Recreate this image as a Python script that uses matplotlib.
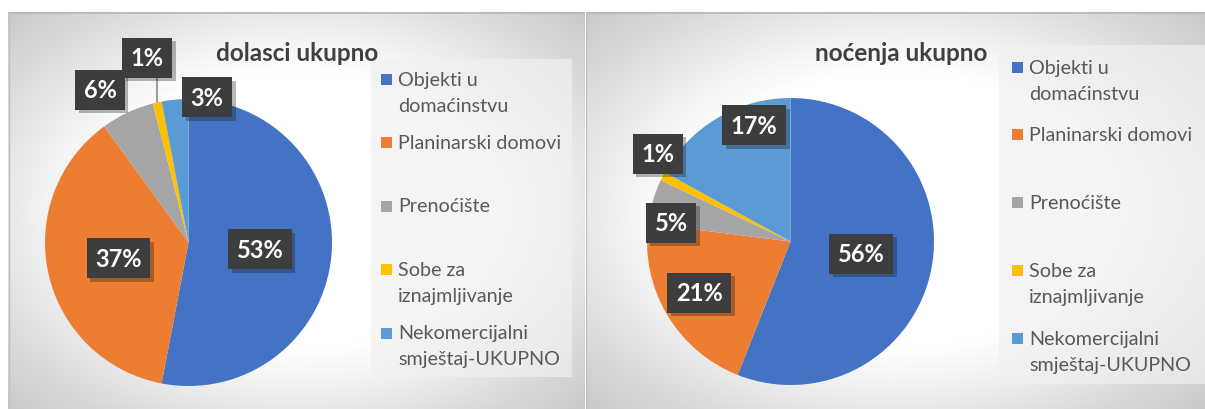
import matplotlib
matplotlib.use("Agg")
import matplotlib.pyplot as plt
import numpy as np
from matplotlib.colors import LinearSegmentedColormap
from matplotlib.patches import Rectangle
import matplotlib.patheffects as pe

plt.rcParams['font.family'] = ['Lato', 'DejaVu Sans']

# podaci
categories = ['Objekti u\ndomaćinstvu', 'Planinarski domovi', 'Prenoćište',
              'Sobe za\niznajmljivanje', 'Nekomercijalni\nsmještaj-UKUPNO']
dolasci = [53, 37, 6, 1, 3]
nocenja = [56, 21, 5, 1, 17]
titles = ['dolasci ukupno', 'noćenja ukupno']
colors = ['#4472C4', '#ED7D31', '#A5A5A5', '#FFC000', '#5B9BD5']

W, H = 1205, 410
fig = plt.figure(figsize=(W / 100, H / 100), dpi=100)


def px_axes(x0, y0, x1, y1):
    # pixel box (top-left origin) -> figure axes
    return fig.add_axes([x0 / W, 1 - y1 / H, (x1 - x0) / W, (y1 - y0) / H])


grad_cmap = LinearSegmentedColormap.from_list('g', ['#ffffff', '#ffffff', '#c9c9c9'])

# panel settings: background box, pie centre, legend box, legend top/step, title
panels = [
    dict(vals=dolasci, bg=(8, 13, 585, 410), c=(188.5, 243.5), r=143.5,
         leg=(371, 60, 572, 378), leg_x=381, leg_y=80, leg_step=63.5,
         title_xy=(297, 53),
         lab_r=[0.50, 0.50, 1.23, 1.32, 1.02], lab_da=[0, 0, 4.9, 0, -12.7],
         leader=[False, False, False, True, False]),
    dict(vals=nocenja, bg=(586, 13, 1205, 410), c=(790.5, 242.5), r=143.5,
         leg=(999, 46, 1205, 385), leg_x=1012, leg_y=68, leg_step=67.8,
         title_xy=(901, 53),
         lab_r=[0.50, 0.73, 0.84, 1.11, 0.85], lab_da=[0.8, -1.2, 7.3, -6.4, -13.3],
         leader=[False] * 5),
]

for i, p in enumerate(panels):
    x0, y0, x1, y1 = p['bg']
    bg = px_axes(x0, y0, x1, y1)
    gx, gy = np.meshgrid(np.linspace(-1, 1, 300), np.linspace(-1, 1, 200))
    t = np.clip(np.sqrt(gx ** 2 + gy ** 2) / np.sqrt(2), 0, 1)
    bg.imshow(t, cmap=grad_cmap, extent=[x0, x1, y1, y0], aspect='auto', vmin=0, vmax=1)
    bg.set_xlim(x0, x1)
    bg.set_ylim(y1, y0)
    bg.axis('off')
    bg.plot([x0, x1], [y0 + 0.5, y0 + 0.5], color='#b5b5b5', lw=1.2)
    bg.plot([x0 + 0.5, x0 + 0.5], [y0, y1], color='#c0c0c0', lw=1.0)

    # legend box
    lx0, ly0, lx1, ly1 = p['leg']
    bg.add_patch(Rectangle((lx0, ly0), lx1 - lx0, ly1 - ly0, facecolor='#f0f0f0',
                           alpha=0.7, edgecolor='none'))
    for k, (lab, col) in enumerate(zip(categories, colors)):
        yy = p['leg_y'] + k * p['leg_step']
        bg.add_patch(Rectangle((p['leg_x'], yy - 5.5), 11, 11, facecolor=col,
                               edgecolor='none'))
        for j, line in enumerate(lab.split('\n')):
            bg.text(p['leg_x'] + 17, yy + j * 26, line, fontsize=14.2, color='#595959',
                    va='center', ha='left')

    bg.text(p['title_xy'][0], p['title_xy'][1], titles[i], fontsize=17.5,
            fontweight='bold', color='#404040', ha='center', va='center')

    # pie
    cx, cy = p['c']
    r = p['r']
    ax = px_axes(cx - r, cy - r, cx + r, cy + r)
    ax.patch.set_alpha(0)
    wedges, _ = ax.pie(p['vals'], colors=colors, startangle=90, counterclock=False,
                       radius=1, wedgeprops=dict(linewidth=0))
    ax.set_xlim(-1, 1)
    ax.set_ylim(-1, 1)
    ax.set_aspect('auto')

    for k, w in enumerate(wedges):
        mid = np.deg2rad((w.theta1 + w.theta2) / 2)
        ang = mid + np.deg2rad(p['lab_da'][k])
        tx, ty = p['lab_r'][k] * np.cos(ang), p['lab_r'][k] * np.sin(ang)
        if p['leader'][k]:
            ex, ey = np.cos(mid), np.sin(mid)
            ax.plot([ex, ex], [ey, ty], color='#8c8c8c', lw=1.2, clip_on=False, zorder=3)
        txt = ax.text(tx, ty, f"{p['vals'][k]}%", fontsize=17, fontweight='bold',
                      color='white', ha='center', va='center', zorder=5,
                      bbox=dict(boxstyle='square,pad=0.36', facecolor='#3d3d3d',
                                edgecolor='none', linewidth=0))
        txt.get_bbox_patch().set_path_effects(
            [pe.SimplePatchShadow(offset=(2.5, -2.5), alpha=0.3), pe.Normal()])

fig.savefig('out.png', dpi=100, facecolor='white')
